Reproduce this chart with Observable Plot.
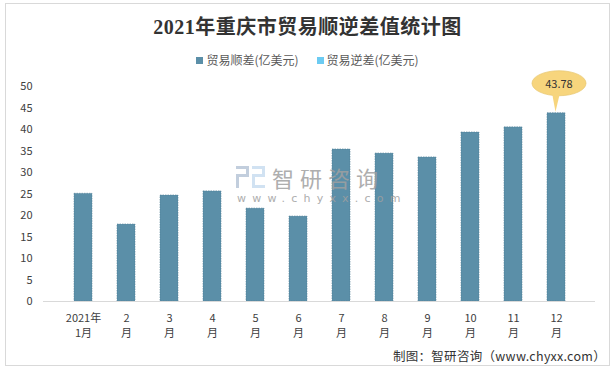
<!DOCTYPE html>
<html>
<head>
<meta charset="utf-8">
<script src="https://cdn.jsdelivr.net/npm/d3@7"></script>
<script src="https://cdn.jsdelivr.net/npm/@observablehq/plot@0.6"></script>
<style>
  html, body { margin: 0; padding: 0; background: #fff; }
  #wrap { position: relative; width: 615px; height: 371px; overflow: hidden; font-family: "Noto Sans CJK SC", "Microsoft YaHei", sans-serif; }
  #frame { position: absolute; left: 5px; top: 3px; width: 605px; height: 363px; border: 1px solid #d9d9d9; box-sizing: border-box; }
  #title { position: absolute; left: 0; top: 13px; width: 615px; text-align: center; font-family: "Liberation Serif", "Noto Sans CJK SC", serif; font-weight: bold; font-size: 20px; color: #333; letter-spacing: 0.5px; line-height: 28px; }
  #legend { position: absolute; left: 0; top: 51px; width: 615px; text-align: center; font-size: 12px; color: #595959; line-height: 18px; }
  #legend span.item { display: inline-block; margin: 0 9px; }
  #legend span.sw { display: inline-block; width: 7px; height: 7px; margin-right: 3px; vertical-align: 1px; }
  #chart { position: absolute; left: 0; top: 70px; }
  #footer { position: absolute; right: 9px; top: 347px; font-size: 12.5px; color: #333; line-height: 18px; letter-spacing: 0.3px; }
  #wm { position: absolute; left: 236px; top: 163px; color: #a0a0a0; opacity: 0.85; pointer-events: none; }
  #wm .big { position: absolute; left: 36px; top: 3px; font-size: 22px; letter-spacing: 6px; line-height: 22px; height: 22px; white-space: nowrap; }
  #wm .small { position: absolute; left: 1px; top: 30px; font-size: 11px; letter-spacing: 6.2px; line-height: 11px; height: 11px; white-space: nowrap; font-family: "DejaVu Sans", sans-serif; }
  #wm .logo { position: absolute; left: 0; top: 3px; width: 30px; height: 22px; }
</style>
</head>
<body>
<div id="wrap">
  <div id="frame"></div>
  <div id="title"></div>
  <div id="legend"></div>
  <div id="chart"></div>
  <div id="wm">
    <svg class="logo" viewBox="0 0 30 22">
      <rect x="0" y="0" width="13" height="3" fill="#b8c6d8"/>
      <rect x="10" y="0" width="3" height="10" fill="#b8c6d8"/>
      <rect x="0" y="8" width="13" height="3" fill="#b8c6d8"/>
      <rect x="0" y="8" width="3" height="14" fill="#b8c6d8"/>
      <rect x="16" y="0" width="13" height="3" fill="#c9def0"/>
      <rect x="26" y="0" width="3" height="10" fill="#c9def0"/>
      <rect x="16" y="8" width="13" height="3" fill="#c9def0"/>
      <rect x="16" y="8" width="3" height="14" fill="#c9def0"/>
      <rect x="16" y="19" width="13" height="3" fill="#c9def0"/>
    </svg>
    <div class="big">智研咨询</div>
    <div class="small">www.chyxx.com</div>
  </div>
  <div id="footer"></div>
</div>
<script>
const titleText = "2021年重庆市贸易顺逆差值统计图";
const seriesNames = ["贸易顺差(亿美元)", "贸易逆差(亿美元)"];
const seriesColors = ["#5b8fa8", "#6ccbf2"];
const months = ["2021年\n1月", "2\n月", "3\n月", "4\n月", "5\n月", "6\n月", "7\n月", "8\n月", "9\n月", "10\n月", "11\n月", "12\n月"];
const surplus = [25.05, 17.9, 24.65, 25.6, 21.6, 19.75, 35.35, 34.4, 33.5, 39.3, 40.5, 43.78];
const yTicks = [0, 5, 10, 15, 20, 25, 30, 35, 40, 45, 50];
const calloutIndex = 11;
const footerText = "制图：智研咨询（www.chyxx.com）";

document.getElementById("title").textContent = titleText;
document.getElementById("footer").textContent = footerText;
const legend = document.getElementById("legend");
seriesNames.forEach((n, i) => {
  const item = document.createElement("span");
  item.className = "item";
  const sw = document.createElement("span");
  sw.className = "sw";
  sw.style.background = seriesColors[i];
  item.appendChild(sw);
  item.appendChild(document.createTextNode(n));
  legend.appendChild(item);
});

const data = months.map((m, i) => ({month: m, value: surplus[i]}));

const chart = Plot.plot({
  width: 615,
  height: 280,
  marginTop: 16,
  marginBottom: 49,
  marginLeft: 43,
  marginRight: 20,
  style: {fontFamily: "'Noto Sans CJK SC', sans-serif", fontSize: "11px", color: "#404040", background: "transparent", overflow: "visible"},
  x: {domain: months, padding: 0.59, label: null},
  y: {domain: [0, 50], label: null},
  marks: [
    Plot.barY(data, {x: "month", y: "value", fill: seriesColors[0], stroke: "#4d7d95", strokeWidth: 0.6, strokeDasharray: "1.5,1"}),
    Plot.ruleY([0], {stroke: "#d9d9d9", strokeWidth: 1}),
    Plot.axisY({ticks: yTicks, tickSize: 0, tickPadding: 11, label: null, fontSize: 11}),
    Plot.axisX({tickSize: 0, tickPadding: 10, label: null, lineHeight: 1.35, fontSize: 11})
  ]
});
document.getElementById("chart").appendChild(chart);

// callout bubble positioned with the plot's own scales
const xs = chart.scale("x"), ys = chart.scale("y");
const d = data[calloutIndex];
const cx = xs.apply(d.month) + xs.bandwidth / 2;
const topY = ys.apply(d.value);
const svg = d3.select(chart);
const g = svg.append("g");
const ey = topY - 29.5, rx = 27, ry = 12.5;
const ex = cx + 3;
g.append("ellipse")
  .attr("cx", ex).attr("cy", ey).attr("rx", rx).attr("ry", ry)
  .attr("fill", "#f7d57d").attr("stroke", "#e6c66e").attr("stroke-width", 0.7);
g.append("path")
  .attr("d", `M${ex - 7},${ey + ry - 3} L${cx - 0.5},${topY - 1} L${ex + 1},${ey + ry - 3} Z`)
  .attr("fill", "#f7d57d");
g.append("text")
  .attr("x", ex).attr("y", ey)
  .attr("text-anchor", "middle").attr("dominant-baseline", "central")
  .attr("font-size", 11).attr("fill", "#333")
  .attr("font-family", "'Noto Sans CJK SC', sans-serif")
  .text(d.value.toFixed(2));
</script>
</body>
</html>
